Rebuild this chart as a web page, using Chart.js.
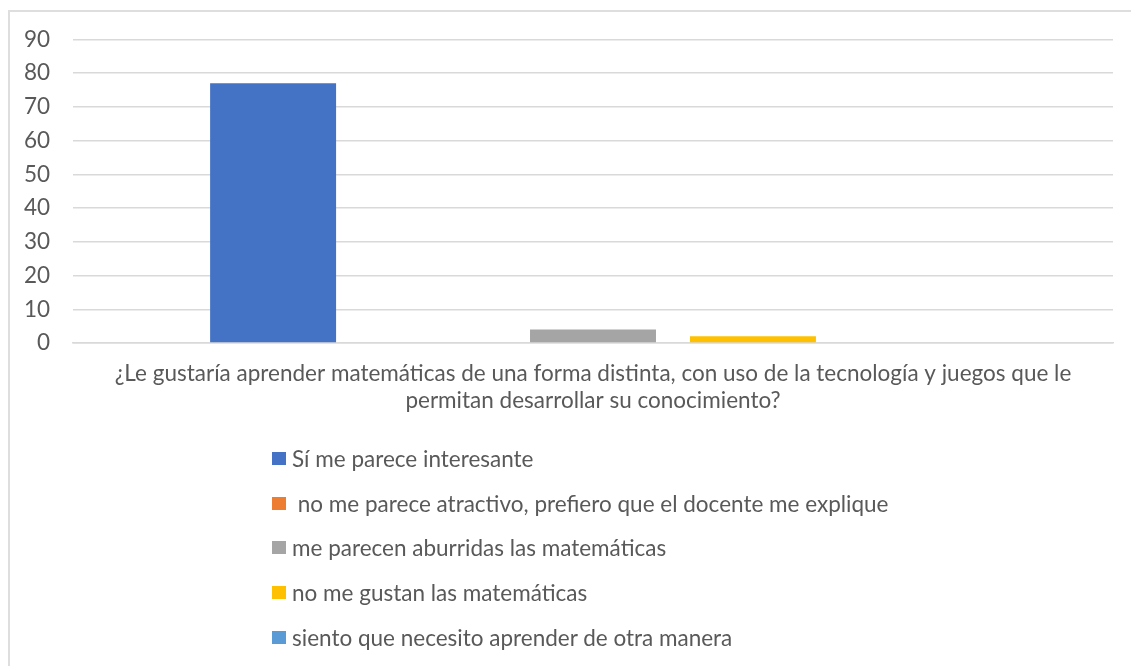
<!DOCTYPE html>
<html>
<head>
<meta charset="utf-8">
<script src="https://cdn.jsdelivr.net/npm/chart.js@4/dist/chart.umd.min.js"></script>
<style>
  html, body { margin: 0; padding: 0; background: #fff; }
  #wrap { position: relative; width: 1131px; height: 666px; overflow: hidden; background: #fff; }
  #frame { position: absolute; left: 8px; top: 10px; width: 1140px; height: 700px; border: 2px solid #dedede; box-sizing: border-box; }
  #c { position: absolute; left: 0; top: 0; }
  #legend { position: absolute; left: 272px; top: 436px; font-family: Lato, 'Noto Sans', sans-serif; font-size: 22.5px; color: #595959; }
  .item { height: 44.75px; display: flex; align-items: center; white-space: pre; }
  .sw { width: 14px; height: 13px; margin-right: 6px; flex: none; }
</style>
</head>
<body>
<div id="wrap">
  <div id="frame"></div>
  <canvas id="c" width="1131" height="666"></canvas>
  <div id="legend"></div>
</div>
<script>
const categoryLines = [
  "¿Le gustaría aprender matemáticas de una forma distinta, con uso de la tecnología y juegos que le",
  "permitan desarrollar su conocimiento?"
];
const seriesNames = [
  "Sí me parece interesante",
  " no me parece atractivo, prefiero que el docente me explique",
  "me parecen aburridas las matemáticas",
  "no me gustan las matemáticas",
  "siento que necesito aprender de otra manera"
];
const seriesValues = [77, 0, 4, 2, 0];
const seriesColors = ["#4472C4", "#ED7D31", "#A5A5A5", "#FFC000", "#5B9BD5"];
const yTicks = [0, 10, 20, 30, 40, 50, 60, 70, 80, 90];

const datasets = seriesNames.map((name, i) => ({
  label: name,
  data: [seriesValues[i]],
  backgroundColor: seriesColors[i],
  borderWidth: 0,
  categoryPercentage: 0.769,
  barPercentage: 0.7875
}));

const font = { family: "Lato, 'Noto Sans', sans-serif", size: 22.5 };

new Chart(document.getElementById('c'), {
  type: 'bar',
  data: { labels: [categoryLines], datasets },
  options: {
    responsive: false,
    animation: false,
    devicePixelRatio: 1,
    layout: { padding: { top: 39.5, right: 18, left: 0, bottom: 0 } },
    plugins: { legend: { display: false }, tooltip: { enabled: false } },
    scales: {
      x: {
        grid: { display: false, drawTicks: false },
        border: { display: true, color: '#d9d9d9', width: 1.5 },
        ticks: { color: '#595959', font: { ...font, lineHeight: 1.2 }, padding: 17, maxRotation: 0, autoSkip: false },
        afterFit: s => { s.height = 666 - 343; }
      },
      y: {
        min: 0, max: 90,
        afterBuildTicks: s => { s.ticks = yTicks.map(v => ({ value: v })); },
        grid: { color: '#d9d9d9', lineWidth: 1.5, drawTicks: false },
        border: { display: false },
        ticks: { color: '#595959', font, padding: 23 },
        afterFit: s => { s.width = 73; }
      }
    }
  }
});

const leg = document.getElementById('legend');
seriesNames.forEach((name, i) => {
  const row = document.createElement('div');
  row.className = 'item';
  const sw = document.createElement('span');
  sw.className = 'sw';
  sw.style.background = seriesColors[i];
  const t = document.createElement('span');
  t.textContent = name;
  row.appendChild(sw); row.appendChild(t);
  leg.appendChild(row);
});
</script>
</body>
</html>
